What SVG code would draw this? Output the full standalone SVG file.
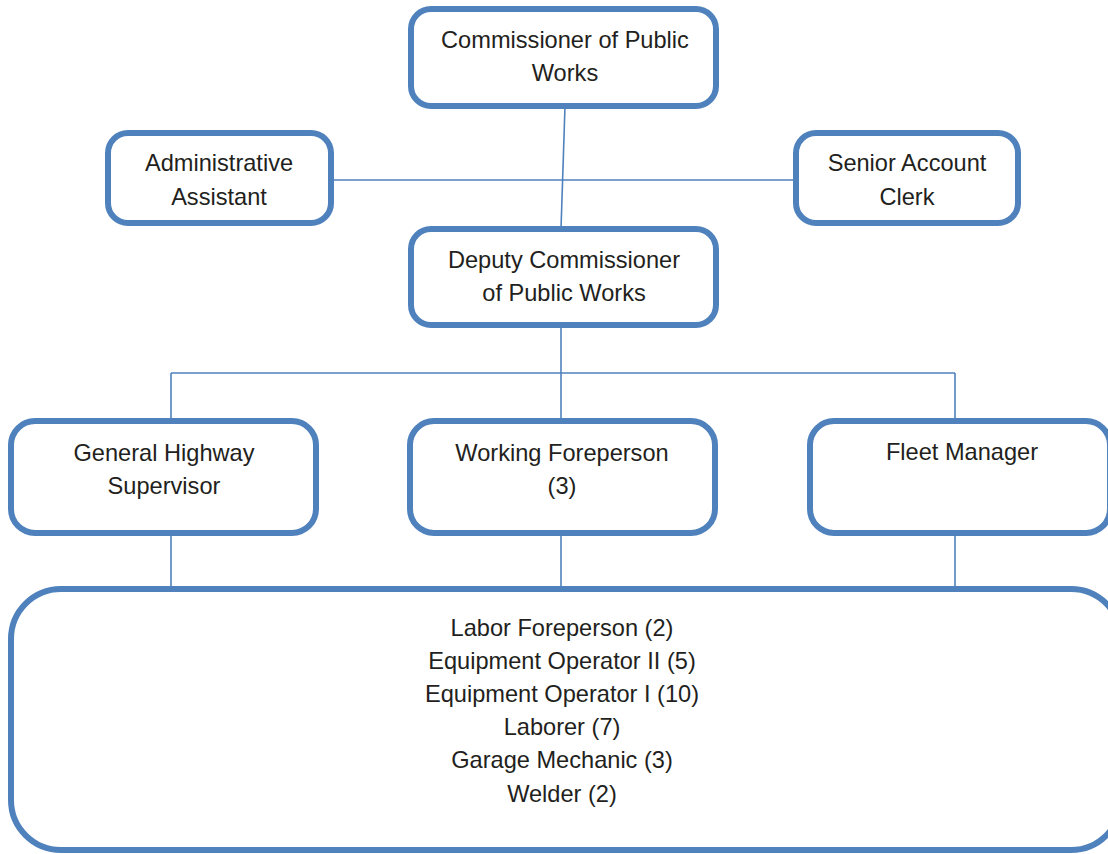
<svg xmlns="http://www.w3.org/2000/svg" width="1108" height="854" viewBox="0 0 1108 854">
  <style>
    .box { fill: #ffffff; stroke: #4f81bd; stroke-width: 6; }
    .link { fill: none; stroke: #4f81bd; stroke-width: 1.6; }
    .lbl { font-family: "Liberation Sans", Arial, sans-serif; font-size: 23.6px; fill: #231f20; text-anchor: middle; }
  </style>
  <rect width="1108" height="854" fill="#ffffff"/>

  <!-- reporting lines -->
  <g id="connectors">
    <line class="link" x1="565" y1="106" x2="561" y2="229"/>
    <line class="link" x1="331" y1="180" x2="796" y2="180"/>
    <line class="link" x1="561" y1="325" x2="561" y2="373"/>
    <line class="link" x1="171" y1="373" x2="955" y2="373"/>
    <line class="link" x1="171" y1="373" x2="171" y2="421"/>
    <line class="link" x1="561" y1="373" x2="561" y2="421"/>
    <line class="link" x1="955" y1="373" x2="955" y2="421"/>
    <line class="link" x1="171" y1="533" x2="171" y2="589"/>
    <line class="link" x1="561" y1="533" x2="561" y2="589"/>
    <line class="link" x1="955" y1="533" x2="955" y2="589"/>
  </g>

  <g id="commissioner">
    <rect class="box" x="411" y="9" width="305" height="97" rx="20"/>
    <text class="lbl" x="565" y="48">Commissioner of Public</text>
    <text class="lbl" x="565" y="81">Works</text>
  </g>

  <g id="admin-assistant">
    <rect class="box" x="108" y="133" width="223" height="90" rx="20"/>
    <text class="lbl" x="219" y="171">Administrative</text>
    <text class="lbl" x="219" y="205">Assistant</text>
  </g>

  <g id="senior-account-clerk">
    <rect class="box" x="796" y="133" width="222" height="90" rx="20"/>
    <text class="lbl" x="907" y="171">Senior Account</text>
    <text class="lbl" x="907" y="205">Clerk</text>
  </g>

  <g id="deputy-commissioner">
    <rect class="box" x="411" y="229" width="305" height="96" rx="20"/>
    <text class="lbl" x="564" y="268">Deputy Commissioner</text>
    <text class="lbl" x="564" y="301">of Public Works</text>
  </g>

  <g id="highway-supervisor">
    <rect class="box" x="11" y="421" width="305" height="112" rx="24"/>
    <text class="lbl" x="164" y="461">General Highway</text>
    <text class="lbl" x="164" y="494">Supervisor</text>
  </g>

  <g id="working-foreperson">
    <rect class="box" x="410" y="421" width="305" height="112" rx="24"/>
    <text class="lbl" x="562" y="461">Working Foreperson</text>
    <text class="lbl" x="562" y="494">(3)</text>
  </g>

  <g id="fleet-manager">
    <rect class="box" x="810" y="421" width="300" height="112" rx="24"/>
    <text class="lbl" x="962" y="460">Fleet Manager</text>
  </g>

  <g id="crew">
    <rect class="box" x="11" y="589" width="1110" height="261" rx="50"/>
    <text class="lbl" x="562" y="636">Labor Foreperson (2)</text>
    <text class="lbl" x="562" y="669">Equipment Operator II (5)</text>
    <text class="lbl" x="562" y="702">Equipment Operator I (10)</text>
    <text class="lbl" x="562" y="735">Laborer (7)</text>
    <text class="lbl" x="562" y="768">Garage Mechanic (3)</text>
    <text class="lbl" x="562" y="802">Welder (2)</text>
  </g>
</svg>
